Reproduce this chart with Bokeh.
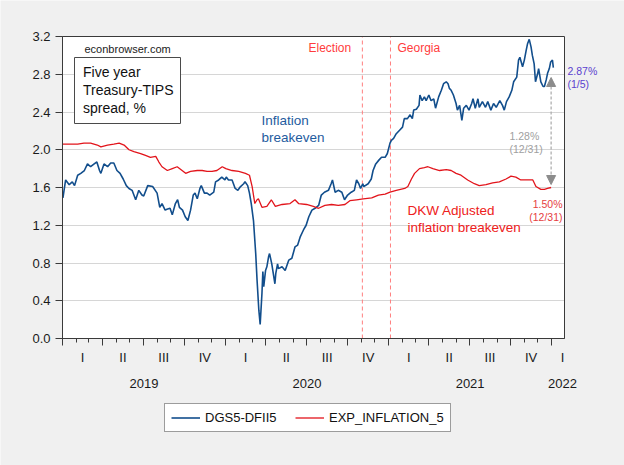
import pandas as pd
from bokeh.plotting import figure
from bokeh.models import (FixedTicker, Label, Arrow, NormalHead, Legend, LegendItem,
                          BoxAnnotation, Range1d, PrintfTickFormatter, LinearAxis, Grid)
from bokeh.embed import file_html
from bokeh.resources import INLINE

# ---------------- data ----------------
blue_dates = [
    "2019-01-02", "2019-01-08", "2019-01-16", "2019-01-23", "2019-01-28", "2019-02-04", "2019-02-11",
    "2019-02-19", "2019-02-26", "2019-03-05", "2019-03-13", "2019-03-19", "2019-03-25", "2019-03-28",
    "2019-04-04", "2019-04-12", "2019-04-19", "2019-04-26", "2019-05-03", "2019-05-10", "2019-05-17",
    "2019-05-24", "2019-05-30", "2019-06-06", "2019-06-14", "2019-06-21", "2019-06-28", "2019-07-02",
    "2019-07-11", "2019-07-22", "2019-08-01", "2019-08-07", "2019-08-12", "2019-08-19", "2019-08-23",
    "2019-08-30", "2019-09-04", "2019-09-11", "2019-09-16", "2019-09-20", "2019-09-27", "2019-10-03",
    "2019-10-09", "2019-10-15", "2019-10-21", "2019-10-25", "2019-10-30", "2019-11-05", "2019-11-08",
    "2019-11-15", "2019-11-21", "2019-11-27", "2019-12-06", "2019-12-10", "2019-12-17", "2019-12-24",
    "2019-12-31",
    "2020-01-03", "2020-01-08", "2020-01-16", "2020-01-23", "2020-01-29", "2020-02-04", "2020-02-11",
    "2020-02-14", "2020-02-20", "2020-02-24", "2020-02-28", "2020-03-04", "2020-03-09", "2020-03-12",
    "2020-03-16", "2020-03-19", "2020-03-23", "2020-03-25", "2020-03-27", "2020-03-31", "2020-04-03",
    "2020-04-07", "2020-04-09", "2020-04-14", "2020-04-21", "2020-04-23", "2020-04-27", "2020-04-29",
    "2020-05-07", "2020-05-14", "2020-05-22", "2020-05-29", "2020-06-05", "2020-06-11", "2020-06-17",
    "2020-06-24", "2020-06-30", "2020-07-06", "2020-07-13", "2020-07-20", "2020-07-28", "2020-08-03",
    "2020-08-10", "2020-08-19", "2020-08-25", "2020-08-28", "2020-09-03", "2020-09-10", "2020-09-18",
    "2020-09-24", "2020-10-01", "2020-10-09", "2020-10-16", "2020-10-21", "2020-10-26", "2020-10-30",
    "2020-11-04", "2020-11-06", "2020-11-16", "2020-11-23", "2020-11-27", "2020-12-03", "2020-12-10",
    "2020-12-16", "2020-12-24", "2020-12-29",
    "2021-01-04", "2021-01-07", "2021-01-12", "2021-01-18", "2021-01-26", "2021-02-01", "2021-02-05",
    "2021-02-12", "2021-02-18", "2021-02-23", "2021-02-26", "2021-03-04", "2021-03-10", "2021-03-12",
    "2021-03-17", "2021-03-22", "2021-03-26", "2021-04-01", "2021-04-06", "2021-04-12", "2021-04-16",
    "2021-04-23", "2021-04-29", "2021-05-04", "2021-05-10", "2021-05-14", "2021-05-17", "2021-05-21",
    "2021-05-26", "2021-06-01", "2021-06-04", "2021-06-09", "2021-06-14", "2021-06-18", "2021-06-24",
    "2021-06-30", "2021-07-06", "2021-07-09", "2021-07-14", "2021-07-20", "2021-07-23", "2021-07-30",
    "2021-08-06", "2021-08-11", "2021-08-18", "2021-08-24", "2021-08-30", "2021-09-07", "2021-09-13",
    "2021-09-17", "2021-09-22", "2021-09-28", "2021-10-04", "2021-10-08", "2021-10-15", "2021-10-19",
    "2021-10-22", "2021-10-28", "2021-11-01", "2021-11-05", "2021-11-08", "2021-11-12", "2021-11-16",
    "2021-11-19", "2021-11-23", "2021-11-26", "2021-12-01", "2021-12-03", "2021-12-08", "2021-12-13",
    "2021-12-16", "2021-12-20", "2021-12-23", "2021-12-27", "2021-12-30", "2022-01-03", "2022-01-05",
]
blue_vals = [
    1.49, 1.68, 1.63, 1.66, 1.62, 1.73, 1.75,
    1.78, 1.85, 1.82, 1.85, 1.87, 1.78, 1.75,
    1.85, 1.82, 1.86, 1.86, 1.78, 1.75, 1.69,
    1.62, 1.59, 1.57, 1.47, 1.57, 1.52, 1.51,
    1.62, 1.61, 1.54, 1.39, 1.43, 1.36, 1.37,
    1.38, 1.31, 1.43, 1.47, 1.39, 1.36, 1.29,
    1.25, 1.36, 1.52, 1.54, 1.48, 1.59, 1.62,
    1.54, 1.54, 1.52, 1.55, 1.66, 1.68, 1.71,
    1.68,
    1.71, 1.68, 1.68, 1.59, 1.57, 1.61, 1.64,
    1.66, 1.62, 1.54, 1.43, 1.25, 0.90, 0.62,
    0.30, 0.15, 0.48, 0.71, 0.55, 0.72, 0.76,
    0.87, 0.90, 0.79, 0.58, 0.69, 0.79, 0.74,
    0.76, 0.72, 0.83, 0.85, 0.97, 0.99, 1.08,
    1.15, 1.20, 1.29, 1.36, 1.38, 1.41, 1.52,
    1.55, 1.57, 1.64, 1.68, 1.55, 1.57, 1.55,
    1.47, 1.52, 1.55, 1.57, 1.68, 1.64, 1.59,
    1.64, 1.61, 1.64, 1.69, 1.78, 1.85, 1.89,
    1.92, 1.92, 1.96,
    2.07, 2.10, 2.12, 2.17, 2.21, 2.24, 2.33,
    2.33, 2.37, 2.33, 2.42, 2.43, 2.47, 2.58,
    2.52, 2.56, 2.52, 2.58, 2.52, 2.54, 2.44,
    2.56, 2.63, 2.70, 2.72, 2.70, 2.65, 2.63,
    2.58, 2.49, 2.42, 2.47, 2.31, 2.44, 2.47,
    2.42, 2.49, 2.54, 2.44, 2.54, 2.45, 2.51,
    2.45, 2.51, 2.42, 2.49, 2.45, 2.52, 2.47,
    2.42, 2.51, 2.56, 2.63, 2.72, 2.77, 2.95,
    2.98, 2.88, 2.95, 3.05, 3.12, 3.17, 3.09,
    3.00, 2.91, 2.72, 2.81, 2.86, 2.72, 2.67,
    2.67, 2.74, 2.81, 2.86, 2.93, 2.95, 2.87,
]

red_dates = [
    "2019-01-02", "2019-01-20", "2019-02-04", "2019-02-18", "2019-03-05", "2019-03-20", "2019-03-28",
    "2019-04-12", "2019-04-26", "2019-05-08", "2019-05-19", "2019-05-30", "2019-06-10", "2019-06-25",
    "2019-07-06", "2019-07-17", "2019-07-29", "2019-08-05", "2019-08-12", "2019-08-24", "2019-09-04",
    "2019-09-15", "2019-09-26", "2019-10-04", "2019-10-15", "2019-10-30", "2019-11-10", "2019-11-21",
    "2019-12-02", "2019-12-13", "2019-12-25",
    "2020-01-02", "2020-01-16", "2020-01-31", "2020-02-15", "2020-02-24", "2020-03-01", "2020-03-07",
    "2020-03-12", "2020-03-15", "2020-03-23", "2020-04-03", "2020-04-13", "2020-04-22", "2020-05-07",
    "2020-05-25", "2020-06-05", "2020-06-13", "2020-07-01", "2020-07-16", "2020-07-28", "2020-08-11",
    "2020-08-26", "2020-09-10", "2020-09-25", "2020-10-06", "2020-10-21", "2020-11-05", "2020-11-24",
    "2020-12-09", "2020-12-24",
    "2021-01-04", "2021-01-18", "2021-02-06", "2021-02-13", "2021-02-21", "2021-02-28", "2021-03-11",
    "2021-03-22", "2021-03-30", "2021-04-10", "2021-04-25", "2021-05-10", "2021-05-21", "2021-06-01",
    "2021-06-12", "2021-06-27", "2021-07-12", "2021-07-23", "2021-08-07", "2021-08-22", "2021-09-06",
    "2021-09-21", "2021-10-02", "2021-10-13", "2021-10-24", "2021-11-05", "2021-11-20", "2021-11-27",
    "2021-12-08", "2021-12-16", "2021-12-23", "2021-12-31",
]
red_vals = [
    2.06, 2.06, 2.06, 2.07, 2.07, 2.05, 2.03,
    2.05, 2.06, 2.07, 2.05, 2.00, 1.98, 1.96,
    1.94, 1.92, 1.93, 1.87, 1.82, 1.78, 1.80,
    1.82, 1.78, 1.75, 1.77, 1.78, 1.78, 1.77,
    1.77, 1.78, 1.82,
    1.80, 1.78, 1.77, 1.75, 1.73, 1.61, 1.43,
    1.47, 1.48, 1.39, 1.40, 1.47, 1.40, 1.42,
    1.43, 1.47, 1.43, 1.42, 1.40, 1.38, 1.41,
    1.42, 1.41, 1.42, 1.46, 1.47, 1.48, 1.49,
    1.52, 1.53,
    1.55, 1.57, 1.59, 1.61, 1.69, 1.75, 1.80,
    1.81, 1.82, 1.80, 1.78, 1.79, 1.78, 1.75,
    1.73, 1.68, 1.64, 1.62, 1.63, 1.65, 1.66,
    1.69, 1.72, 1.71, 1.68, 1.68, 1.68, 1.61,
    1.58, 1.58, 1.59, 1.60,
]

series_names = ["DGS5-DFII5", "EXP_INFLATION_5"]
y_ticks = [0.0, 0.4, 0.8, 1.2, 1.6, 2.0, 2.4, 2.8, 3.2]
quarter_labels = ["I", "II", "III", "IV"]
year_labels = ["2019", "2020", "2021", "2022"]
event_dates = ["2020-11-03", "2021-01-05"]
event_labels = ["Election", "Georgia"]
box_text = "Five year\nTreasury-TIPS\nspread, %"
blue_note = "Inflation\nbreakeven"
red_note = "DKW Adjusted\ninflation breakeven"
end_notes = ["2.87%\n(1/5)", "1.28%\n(12/31)", "1.50%\n(12/31)"]
gap_date = "2021-12-31"

# ---------------- layout (pixel geometry of the chart box) ----------------
W, H = 624, 465
FL, FR, FT, FB = 62, 564, 36, 338
X0, X1 = pd.Timestamp("2019-01-01"), pd.Timestamp("2022-01-30")
Y0, Y1 = 0.0, 3.2
FONT = "Liberation Sans"
BLUE = "#124E8C"
RED = "#E2141B"
TXT = "#1A1A1A"
AX = "#3A3A3A"


def ms(t):
    return int(pd.Timestamp(t).value // 1_000_000)


def X(px):
    return ms(X0) + (px - FL) / (FR - FL) * (ms(X1) - ms(X0))


def Y(py):
    return Y0 + (FB - py) / (FB - FT) * (Y1 - Y0)


# the frame covers the whole canvas; the chart box is drawn inside it
p = figure(width=W, height=H, title=None, x_axis_location=None, y_axis_location=None,
           x_range=Range1d(X(0), X(W)), y_range=Range1d(Y(H), Y(0)),
           output_backend="svg", toolbar_location=None,
           min_border_left=0, min_border_right=0, min_border_top=0, min_border_bottom=0)
p.background_fill_color = "#F0F0F0"
p.border_fill_color = "#F0F0F0"
p.outline_line_color = None
p.center = [c for c in p.center if not isinstance(c, Grid)]

# white chart area
p.add_layout(BoxAnnotation(left=ms(X0), right=ms(X1), bottom=Y0, top=Y1, fill_color="white",
                           fill_alpha=1, line_color=None, level="underlay"))

# horizontal grid lines limited to the chart box
grid = Grid(dimension=1, ticker=FixedTicker(ticks=y_ticks[1:-1]), grid_line_color="#D6D6D6",
            grid_line_width=1)
grid_ok = True
try:
    grid.cross_bounds = (ms(X0), ms(X1))
except Exception:
    grid_ok = False
if grid_ok:
    p.add_layout(grid)
else:
    p.segment(x0=[ms(X0)] * (len(y_ticks) - 2), x1=[ms(X1)] * (len(y_ticks) - 2),
              y0=y_ticks[1:-1], y1=y_ticks[1:-1], line_color="#D6D6D6", line_width=1)

# y axis, fixed at the left edge of the chart box
yaxis = LinearAxis(fixed_location=ms(X0), bounds=(Y0, Y1), ticker=FixedTicker(ticks=y_ticks),
                   formatter=PrintfTickFormatter(format="%.1f"),
                   major_tick_out=7, major_tick_in=0, minor_tick_out=0, minor_tick_in=0,
                   major_label_standoff=5, major_label_text_font=FONT,
                   major_label_text_font_size="13px", major_label_text_color=TXT,
                   axis_line_color=AX, major_tick_line_color=AX)
p.add_layout(yaxis, "left")

# x axis, fixed at the bottom of the chart box: quarter (long) and month (short) ticks
q_starts = [ms(t) for t in pd.date_range("2019-01-01", "2022-01-01", freq="QS")]
m_starts = [ms(t) for t in pd.date_range("2019-01-01", "2022-01-01", freq="MS")]
xaxis = LinearAxis(fixed_location=Y0, bounds=(ms(X0), ms(X1)),
                   ticker=FixedTicker(ticks=q_starts, minor_ticks=m_starts),
                   major_tick_out=7, major_tick_in=0, minor_tick_out=4, minor_tick_in=0,
                   major_label_text_color=None, axis_line_color=AX,
                   major_tick_line_color=AX, minor_tick_line_color=AX)
p.add_layout(xaxis, "below")

# event lines
p.segment(x0=pd.to_datetime(event_dates), x1=pd.to_datetime(event_dates),
          y0=[Y0] * len(event_dates), y1=[Y1] * len(event_dates),
          line_color="#FF7F7F", line_dash="4 3", line_width=1)

# series
r_blue = p.line(pd.to_datetime(blue_dates), blue_vals, line_color=BLUE, line_width=1.6)
r_red = p.line(pd.to_datetime(red_dates), red_vals, line_color=RED, line_width=1.3)

# chart box border on top
p.add_layout(BoxAnnotation(left=ms(X0), right=ms(X1), bottom=Y0, top=Y1, fill_color=None,
                           line_color=AX, line_alpha=1, line_width=1))

# quarter and year labels
q_mids = [(q_starts[i] + q_starts[i + 1]) / 2 for i in range(len(q_starts) - 1)] + [X(562)]
for i, xm in enumerate(q_mids):
    p.add_layout(Label(x=xm, y=Y(357), text=quarter_labels[i % 4], text_align="center",
                       text_baseline="middle", text_font=FONT, text_font_size="13px",
                       text_color=TXT))
y_starts = [ms(f"{y}-01-01") for y in year_labels]
y_mids = [(y_starts[i] + y_starts[i + 1]) / 2 for i in range(len(y_starts) - 1)] + [X(562)]
for i, xm in enumerate(y_mids):
    p.add_layout(Label(x=xm, y=Y(383), text=year_labels[i], text_align="center",
                       text_baseline="middle", text_font=FONT, text_font_size="13px",
                       text_color=TXT))

# annotations
p.add_layout(Label(x=X(84), y=Y(48), text="econbrowser.com", text_baseline="middle",
                   text_font=FONT, text_font_size="11px", text_color=TXT))
p.add_layout(BoxAnnotation(left=X(74), right=X(180), top=Y(57), bottom=Y(123),
                           fill_color="white", fill_alpha=1, line_color="#4A4A4A",
                           line_alpha=1, line_width=1))
p.add_layout(Label(x=X(82.5), y=Y(63), text=box_text, text_baseline="top",
                   text_font=FONT, text_font_size="14px", text_color="#111111",
                   text_line_height=1.13))
p.add_layout(Label(x=X(261), y=Y(112), text=blue_note, text_baseline="top",
                   text_font=FONT, text_font_size="13.5px", text_color="#1F5C9E",
                   text_line_height=1.16))
p.add_layout(Label(x=X(407), y=Y(202), text=red_note, text_baseline="top",
                   text_font=FONT, text_font_size="13.5px", text_color="#EE2020",
                   text_line_height=1.16))
p.add_layout(Label(x=X(308), y=Y(47), text=event_labels[0], text_baseline="middle",
                   text_font=FONT, text_font_size="12px", text_color="#FF3C3C"))
p.add_layout(Label(x=X(397), y=Y(47), text=event_labels[1], text_baseline="middle",
                   text_font=FONT, text_font_size="12px", text_color="#FF3C3C"))
p.add_layout(Label(x=X(567), y=Y(64), text=end_notes[0], text_baseline="top",
                   text_font=FONT, text_font_size="10.5px", text_color="#5A3FCF",
                   text_line_height=1.16))
p.add_layout(Label(x=X(509), y=Y(129), text=end_notes[1], text_baseline="top",
                   text_font=FONT, text_font_size="10.5px", text_color="#A0A0A0",
                   text_line_height=1.16))
p.add_layout(Label(x=X(562), y=Y(197), text=end_notes[2], text_baseline="top",
                   text_align="right", text_font=FONT, text_font_size="10.5px",
                   text_color="#E64040", text_line_height=1.16))
p.add_layout(Arrow(x_start=ms(gap_date), y_start=Y(184), x_end=ms(gap_date), y_end=Y(77),
                   line_color="#A8A8A8", line_dash="3 2", line_width=1.2,
                   start=NormalHead(size=9, fill_color="#8C8C8C", line_color="#8C8C8C"),
                   end=NormalHead(size=9, fill_color="#8C8C8C", line_color="#8C8C8C")))

# legend below the chart box
legend = Legend(items=[LegendItem(label=series_names[0], renderers=[r_blue]),
                       LegendItem(label=series_names[1], renderers=[r_red])],
                location=(164, H - 432), orientation="horizontal",
                label_text_font=FONT, label_text_font_size="13px", label_text_color="#111111",
                glyph_width=29, glyph_height=13, label_height=13, label_width=80,
                label_standoff=5, spacing=10, padding=6, margin=0,
                border_line_color=AX, border_line_width=1,
                background_fill_color="white", background_fill_alpha=1)
p.add_layout(legend)

open("out.html", "w").write(file_html(p, INLINE))
